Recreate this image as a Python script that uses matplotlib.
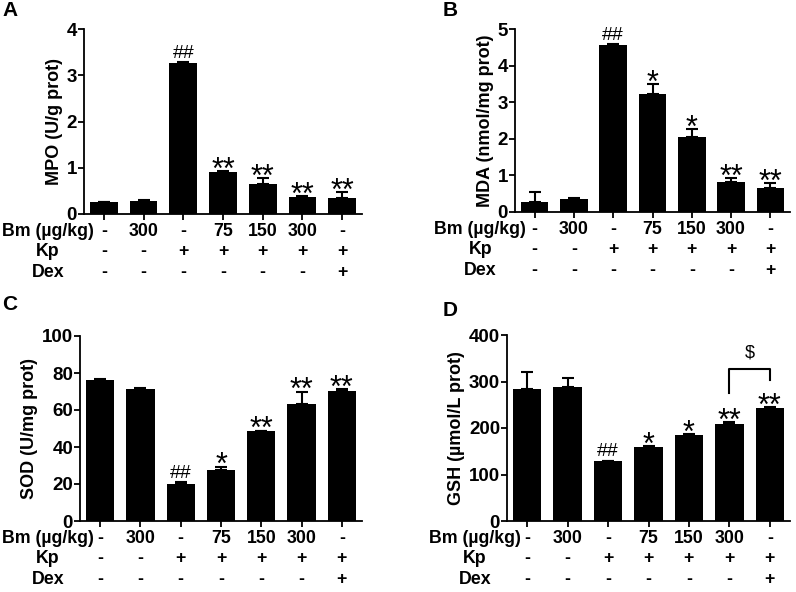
import matplotlib
matplotlib.use('Agg')
import matplotlib.pyplot as plt
import matplotlib.transforms as mtransforms
import numpy as np

plt.rcParams['font.family'] = ['Liberation Sans', 'DejaVu Sans']
plt.rcParams['font.weight'] = 'bold'
plt.rcParams['axes.labelweight'] = 'bold'

# --- data ---
bm_dose = ['-', '300', '-', '75', '150', '300', '-']
kp_row = ['-', '-', '+', '+', '+', '+', '+']
dex_row = ['-', '-', '-', '-', '-', '-', '+']

mpo = [0.26, 0.28, 3.26, 0.90, 0.65, 0.37, 0.35]
mpo_err = [0.01, 0.02, 0.02, 0.02, 0.13, 0.02, 0.13]
mpo_sig = ['', '', '##', '**', '**', '**', '**']

mda = [0.26, 0.35, 4.56, 3.22, 2.04, 0.82, 0.66]
mda_err = [0.28, 0.03, 0.03, 0.27, 0.22, 0.10, 0.12]
mda_sig = ['', '', '##', '*', '*', '**', '**']

sod = [76.0, 71.2, 19.8, 27.8, 48.5, 63.2, 70.5]
sod_err = [0.7, 0.7, 1.4, 1.6, 0.4, 6.8, 0.7]
sod_sig = ['', '', '##', '*', '**', '**', '**']

gsh = [284, 288, 128, 160, 184, 208, 243]
gsh_err = [36, 19, 2, 1.5, 3, 5, 1.5]
gsh_sig = ['', '', '##', '*', '*', '**', '**']

W, H = 796, 592
fig = plt.figure(figsize=(W / 100, H / 100), dpi=100)


def px_axes(left, top, right, bottom):
    return fig.add_axes([left / W, 1 - bottom / H, (right - left) / W, (bottom - top) / H])


def draw_panel(ax, vals, errs, sigs, ymax, ystep, ylabel, row_x):
    x = np.arange(len(vals))
    ax.bar(x, vals, width=0.7, color='black', zorder=2)
    ax.errorbar(x, vals, yerr=[np.zeros(len(errs)), errs], fmt='none',
                ecolor='black', elinewidth=1.5, capsize=4, capthick=1.5, zorder=3)
    ax.set_xlim(-0.5, len(vals) - 0.5)
    ax.set_ylim(0, ymax)
    ax.set_yticks(np.arange(0, ymax + ystep / 2, ystep))
    ax.set_xticks(x)
    ax.set_xticklabels([])
    ax.spines['top'].set_visible(False)
    ax.spines['right'].set_visible(False)
    for s in ('left', 'bottom'):
        ax.spines[s].set_linewidth(1.3)
    ax.tick_params(axis='y', direction='out', length=4, width=1.3, labelsize=13.5, pad=1)
    ax.tick_params(axis='x', direction='out', length=4, width=1.3)
    for t in ax.get_yticklabels():
        t.set_fontweight('bold')
    ax.set_ylabel(ylabel, fontsize=13, labelpad=3)

    # significance marks
    for i, s in enumerate(sigs):
        if not s:
            continue
        top = vals[i] + errs[i]
        if s.startswith('*'):
            ax.annotate(s, (i, top), xytext=(0, -5.5), textcoords='offset points',
                        ha='center', va='baseline', fontsize=22, fontweight='normal')
        else:
            ax.annotate(s, (i, top), xytext=(0, 3), textcoords='offset points',
                        ha='center', va='baseline', fontsize=14, fontweight='normal')

    # treatment table under the axis
    trans = mtransforms.blended_transform_factory(ax.transData, ax.transAxes)
    rows = [('Bm (\u00b5g/kg)', bm_dose, 12.6), ('Kp', kp_row, 27.0), ('Dex', dex_row, 42.0)]
    for label, items, off in rows:
        ax.annotate(label, (0, 0), xycoords='axes fraction', xytext=(row_x, -off),
                    textcoords='offset points', ha='center', va='center',
                    fontsize=12.8, annotation_clip=False)
        for i, t in enumerate(items):
            ax.annotate(t, (i, 0), xycoords=trans, xytext=(0, -off),
                        textcoords='offset points', ha='center', va='center',
                        fontsize=12.8, annotation_clip=False)


axA = px_axes(84, 29, 362, 214)
draw_panel(axA, mpo, mpo_err, mpo_sig, 4, 1, 'MPO (U/g prot)', -26)
axB = px_axes(515, 29, 790, 212)
draw_panel(axB, mda, mda_err, mda_sig, 5, 1, 'MDA (nmol/mg prot)', -25)
axC = px_axes(80, 336, 362, 521)
draw_panel(axC, sod, sod_err, sod_sig, 100, 20, 'SOD (U/mg prot)', -23)
axD = px_axes(507, 335, 790, 521)
draw_panel(axD, gsh, gsh_err, gsh_sig, 400, 100, 'GSH (\u00b5mol/L prot)', -23)

# bracket between Bm 300 and Dex in panel D
axD.plot([5, 5, 6, 6], [275, 327, 327, 303], color='black', lw=1.5, clip_on=False)
axD.text(5.5, 361, '$', ha='center', va='center', fontsize=13, fontweight='normal')

for lab, xp, yp in [('A', 10, 10), ('B', 450, 11), ('C', 10, 305), ('D', 450, 311)]:
    fig.text(xp / W, 1 - yp / H, lab, ha='center', va='center', fontsize=15, fontweight='bold')

fig.savefig('out.png', dpi=100)
